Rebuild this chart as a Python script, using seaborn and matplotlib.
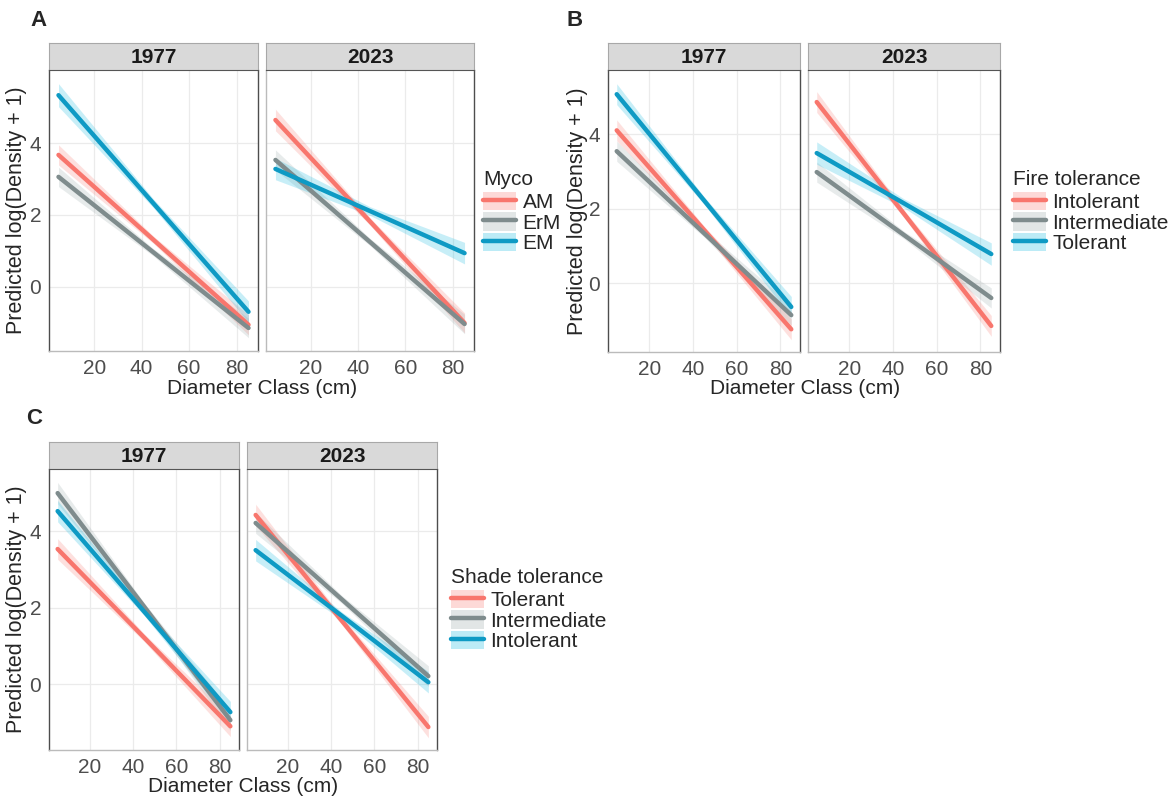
import numpy as np
import pandas as pd
import matplotlib
matplotlib.use("Agg")
import matplotlib.pyplot as plt
import seaborn as sns
from matplotlib.lines import Line2D
from matplotlib.patches import Patch
from matplotlib.legend_handler import HandlerTuple

sns.set_theme(style="white")
plt.rcParams['font.family'] = ['Liberation Sans', 'DejaVu Sans']

# ---------------- data ----------------
x_points = [5, 45, 85]
years = ["1977", "2023"]

# Panel A: mycorrhizal type
myco_groups = ["AM", "ErM", "EM"]
A_1977_AM = [3.67, 1.31, -1.05]
A_1977_ErM = [3.06, 0.96, -1.14]
A_1977_EM = [5.33, 2.32, -0.69]
A_2023_AM = [4.64, 1.82, -1.00]
A_2023_ErM = [3.53, 1.25, -1.03]
A_2023_EM = [3.28, 2.11, 0.94]
A_hw_1977_AM = [0.28, 0.10, 0.28]
A_hw_1977_ErM = [0.27, 0.10, 0.27]
A_hw_1977_EM = [0.32, 0.12, 0.30]
A_hw_2023_AM = [0.30, 0.10, 0.28]
A_hw_2023_ErM = [0.28, 0.10, 0.27]
A_hw_2023_EM = [0.30, 0.12, 0.30]

# Panel B: fire tolerance
fire_groups = ["Intolerant", "Intermediate", "Tolerant"]
B_1977_Intolerant = [4.10, 1.43, -1.24]
B_1977_Intermediate = [3.54, 1.34, -0.86]
B_1977_Tolerant = [5.07, 2.22, -0.64]
B_2023_Intolerant = [4.86, 1.86, -1.15]
B_2023_Intermediate = [2.98, 1.29, -0.40]
B_2023_Tolerant = [3.49, 2.14, 0.78]
B_hw_1977_Intolerant = [0.28, 0.10, 0.28]
B_hw_1977_Intermediate = [0.27, 0.10, 0.27]
B_hw_1977_Tolerant = [0.28, 0.10, 0.28]
B_hw_2023_Intolerant = [0.28, 0.10, 0.28]
B_hw_2023_Intermediate = [0.27, 0.10, 0.27]
B_hw_2023_Tolerant = [0.30, 0.12, 0.30]

# Panel C: shade tolerance
shade_groups = ["Tolerant", "Intermediate", "Intolerant"]
C_1977_Tolerant = [3.53, 1.22, -1.10]
C_1977_Intermediate = [4.99, 2.03, -0.94]
C_1977_Intolerant = [4.52, 1.90, -0.73]
C_2023_Tolerant = [4.42, 1.65, -1.12]
C_2023_Intermediate = [4.21, 2.21, 0.21]
C_2023_Intolerant = [3.50, 1.78, 0.05]
C_hw_1977_Tolerant = [0.27, 0.10, 0.27]
C_hw_1977_Intermediate = [0.28, 0.10, 0.27]
C_hw_1977_Intolerant = [0.28, 0.10, 0.28]
C_hw_2023_Tolerant = [0.28, 0.10, 0.28]
C_hw_2023_Intermediate = [0.27, 0.10, 0.27]
C_hw_2023_Intolerant = [0.28, 0.10, 0.28]

x_ticks = [20, 40, 60, 80]
y_ticks = [0, 2, 4]

# ---------------- styling ----------------
line_colors = ["#F8766D", "#7F8C8D", "#0E9AC4"]
fill_colors = ["#F8766D", "#95A5A6", "#22BDE3"]
fill_alpha = [0.22, 0.22, 0.25]

W, H = 1169, 799
fig = plt.figure(figsize=(W / 100, H / 100), dpi=100)
fig.patch.set_facecolor("white")


def px_axes(l, t, r, b):
    return fig.add_axes([l / W, 1 - b / H, (r - l) / W, (b - t) / H])


def build_df(prefix, groups):
    rows = []
    for yr in years:
        for g in groups:
            vals = globals()[f"{prefix}_{yr}_{g}"]
            hws = globals()[f"{prefix}_hw_{yr}_{g}"]
            for x, v, h in zip(x_points, vals, hws):
                rows.append(dict(year=yr, group=g, x=x, fit=v,
                                 lo=v - h, hi=v + h))
    return pd.DataFrame(rows)


def draw_panel(prefix, groups, boxes, strip_t, ylim, letter, letter_xy,
               ylabel_x, xlabel_xy, legend_title, legend_xy):
    df = build_df(prefix, groups)
    pal = dict(zip(groups, line_colors))
    for i, (yr, (l, t, r, b)) in enumerate(zip(years, boxes)):
        ax = px_axes(l, t, r, b)
        sub = df[df.year == yr]
        for k, g in enumerate(groups):
            s = sub[sub.group == g]
            ax.fill_between(s.x, s.lo, s.hi, color=fill_colors[k],
                            alpha=fill_alpha[k], lw=0, zorder=2)
        sns.lineplot(data=sub, x="x", y="fit", hue="group", hue_order=groups,
                     palette=pal, lw=3.2, ax=ax, legend=False, zorder=3,
                     estimator=None, sort=True)
        ax.set_xlim(1, 89)
        ax.set_ylim(*ylim)
        ax.set_xticks(x_ticks)
        ax.set_yticks(y_ticks)
        ax.grid(True, color="#EBEBEB", lw=0.9, zorder=0)
        ax.set_axisbelow(True)
        ax.set_xlabel("")
        ax.set_ylabel("")
        ax.tick_params(axis="both", labelsize=15, length=2.5, width=0.8,
                       pad=3, colors="#333333", labelcolor="#4D4D4D")
        if i == 1:
            ax.tick_params(axis="y", left=False, labelleft=False)
        for side in ["left", "bottom", "right"]:
            ax.spines[side].set_visible(True)
            ax.spines[side].set_color("#4D4D4D")
            ax.spines[side].set_linewidth(1.0)
        ax.spines["top"].set_visible(False)
        ax.spines["bottom"].set_color("#BBBBBB")
        if i == 1:
            ax.spines["left"].set_color("#BBBBBB")
        # strip
        sax = px_axes(l, strip_t, r, t)
        sax.set_facecolor("#D9D9D9")
        sax.set_xticks([])
        sax.set_yticks([])
        for sp in sax.spines.values():
            sp.set_color("#A8A8A8")
            sp.set_linewidth(0.8)
        sax.spines["bottom"].set_color("#555555")
        sax.text(0.5, 0.46, yr, ha="center", va="center", fontsize=15,
                 fontweight="bold", color="#1A1A1A", transform=sax.transAxes)

    fig.text(letter_xy[0] / W, 1 - letter_xy[1] / H, letter, fontsize=16,
             fontweight="bold", ha="left", va="center")
    t0, b0 = boxes[0][1], boxes[0][3]
    fig.text(ylabel_x / W, 1 - ((t0 + b0) / 2) / H,
             "Predicted log(Density + 1)", rotation=90, fontsize=15.5,
             ha="center", va="center")
    fig.text(xlabel_xy[0] / W, 1 - xlabel_xy[1] / H, "Diameter Class (cm)",
             fontsize=15, ha="center", va="center")

    handles = []
    for k in range(3):
        handles.append((Patch(facecolor=fill_colors[k], alpha=fill_alpha[k] + 0.05,
                              edgecolor="none"),
                        Line2D([0], [0], color=line_colors[k], lw=3.2)))
    leg = fig.legend(handles, groups, title=legend_title,
                     loc="upper left",
                     bbox_to_anchor=(legend_xy[0] / W, 1 - legend_xy[1] / H),
                     frameon=False, fontsize=15, title_fontsize=15,
                     handler_map={tuple: HandlerTuple(ndivide=1)},
                     handlelength=1.6, handleheight=1.0, handletextpad=0.3,
                     labelspacing=0.0, borderpad=0, borderaxespad=0,
                     alignment="left")
    leg._legend_box.sep = 2


draw_panel("A", myco_groups,
           [(49, 70, 258, 351), (266, 70, 474, 351)], 43, (-1.78, 6.03),
           "A", (30, 20), 17, (262, 388), "Myco", (483, 170))

draw_panel("B", fire_groups,
           [(608, 70, 800, 352), (808, 70, 1000, 352)], 43, (-1.85, 5.72),
           "B", (567, 20), 577, (805, 388), "Fire tolerance", (1013, 170))

draw_panel("C", shade_groups,
           [(49, 469, 239, 750), (247, 469, 437, 750)], 442, (-1.72, 5.62),
           "C", (26, 418), 17, (243, 786), "Shade tolerance", (451, 568))

fig.savefig("out.png", dpi=100, facecolor="white")
